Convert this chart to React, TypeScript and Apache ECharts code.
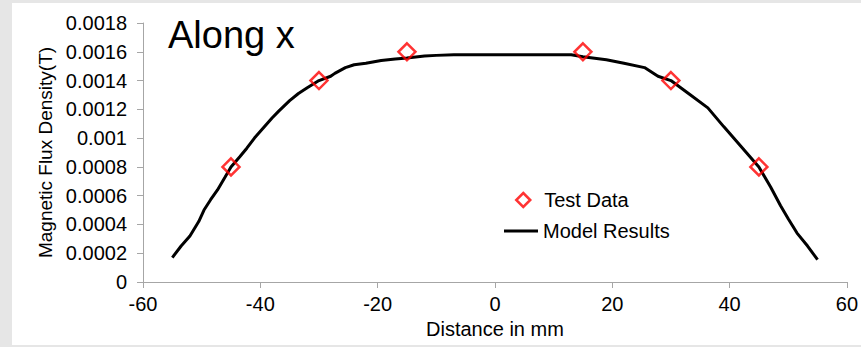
import React, { useEffect, useRef } from "react";
import * as echarts from "echarts";

const testX = [-45, -30, -15, 15, 30, 45];
const testY = [0.0008, 0.0014, 0.0016, 0.0016, 0.0014, 0.0008];

const modelX = [
  -55, -53.5, -52, -50.5, -49.6, -48.5, -47.3, -46, -45, -43.5, -42.3, -41, -39.5, -38, -36.9,
  -35, -33.5, -32, -30, -28, -27.3, -25.5, -24, -22, -19.4, -17, -15, -12, -10, -7, 0, 7, 13,
  15, 19, 22, 25.5, 27.8, 30, 33, 36.3, 39, 42, 45, 47, 48.7, 50, 51.5, 53.3, 55,
];
const modelY = [
  0.00017, 0.00025, 0.00032, 0.00042, 0.0005, 0.00057, 0.00064, 0.00073, 0.0008, 0.00087,
  0.00093, 0.001, 0.00107, 0.00114, 0.001186, 0.00126, 0.00131, 0.00135, 0.0014, 0.00143,
  0.00145, 0.00149, 0.00151, 0.00152, 0.00154, 0.00155, 0.001557, 0.00157, 0.001575, 0.00158,
  0.00158, 0.00158, 0.00158, 0.001565, 0.001545, 0.00152, 0.00149, 0.00143, 0.0014, 0.00131,
  0.00121, 0.00108, 0.00094, 0.0008, 0.00066, 0.00053, 0.00044, 0.00034, 0.00025, 0.000155,
];

const xTicks = { min: -60, max: 60, interval: 20 };
const yTicks = { min: 0, max: 0.0018, interval: 0.0002 };

const FONT = "'Liberation Sans', Arial, sans-serif";

export default function App() {
  const ref = useRef<HTMLDivElement>(null);

  useEffect(() => {
    if (!ref.current) return;
    const chart = echarts.init(ref.current, undefined, { renderer: "svg" });
    const axisColor = "#a6a6a6";
    chart.setOption({
      animation: false,
      textStyle: { fontFamily: FONT, color: "#000" },
      title: {
        text: "Along x",
        left: 168,
        top: 16,
        padding: 0,
        textStyle: { fontFamily: FONT, fontSize: 38, fontWeight: "normal", color: "#000" },
      },
      grid: { left: 143, right: 8, top: 23, bottom: 65 },
      legend: [
        {
          data: ["Test Data"],
          left: 515,
          top: 190,
          padding: 0,
          itemWidth: 14,
          itemHeight: 14,
          itemStyle: { borderWidth: 2.5 },
          textStyle: { fontFamily: FONT, fontSize: 20, color: "#000", padding: [0, 0, 0, 9] },
        },
        {
          data: [{ name: "Model Results", icon: "rect" }],
          left: 504,
          top: 221,
          padding: 0,
          itemWidth: 34,
          itemHeight: 3,
          itemStyle: { color: "#000" },
          textStyle: { fontFamily: FONT, fontSize: 20, color: "#000" },
        },
      ],
      xAxis: {
        type: "value",
        min: xTicks.min,
        max: xTicks.max,
        interval: xTicks.interval,
        name: "Distance in mm",
        nameLocation: "middle",
        nameGap: 34,
        nameTextStyle: { fontFamily: FONT, fontSize: 20, color: "#000" },
        axisLine: { show: true, onZero: false, lineStyle: { color: axisColor, width: 1 } },
        axisTick: { show: true, length: 6, lineStyle: { color: axisColor } },
        axisLabel: { fontFamily: FONT, fontSize: 20, color: "#000", margin: 12 },
        splitLine: { show: false },
      },
      yAxis: {
        type: "value",
        min: yTicks.min,
        max: yTicks.max,
        interval: yTicks.interval,
        name: "Magnetic Flux Density(T)",
        nameLocation: "middle",
        nameGap: 86,
        nameTextStyle: { fontFamily: FONT, fontSize: 19, color: "#000" },
        axisLine: { show: true, onZero: false, lineStyle: { color: axisColor, width: 1 } },
        axisTick: { show: true, length: 6, lineStyle: { color: axisColor } },
        axisLabel: {
          fontFamily: FONT,
          fontSize: 20,
          color: "#000",
          margin: 16,
          formatter: (v: number) => String(parseFloat(v.toFixed(4))),
        },
        splitLine: { show: false },
      },
      series: [
        {
          name: "Model Results",
          type: "line",
          data: modelX.map((x, i) => [x, modelY[i]]),
          symbol: "none",
          showSymbol: false,
          lineStyle: { color: "#000", width: 3 },
          itemStyle: { color: "#000" },
          z: 2,
        },
        {
          name: "Test Data",
          type: "scatter",
          data: testX.map((x, i) => [x, testY[i]]),
          symbol: "diamond",
          symbolSize: 17,
          itemStyle: { color: "rgba(255,255,255,0)", borderColor: "#ff0000", borderWidth: 2.5 },
          z: 3,
        },
      ],
    });
    return () => chart.dispose();
  }, []);

  return (
    <div
      style={{
        position: "absolute",
        left: 0,
        top: 0,
        width: 861,
        height: 347,
        background: "#e6e6e6",
        overflow: "hidden",
      }}
    >
      <div
        style={{
          position: "absolute",
          left: 12,
          top: 3,
          width: 849,
          height: 342,
          background: "#ffffff",
        }}
      />
      <div ref={ref} style={{ position: "absolute", left: 0, top: 0, width: 861, height: 347 }} />
    </div>
  );
}
